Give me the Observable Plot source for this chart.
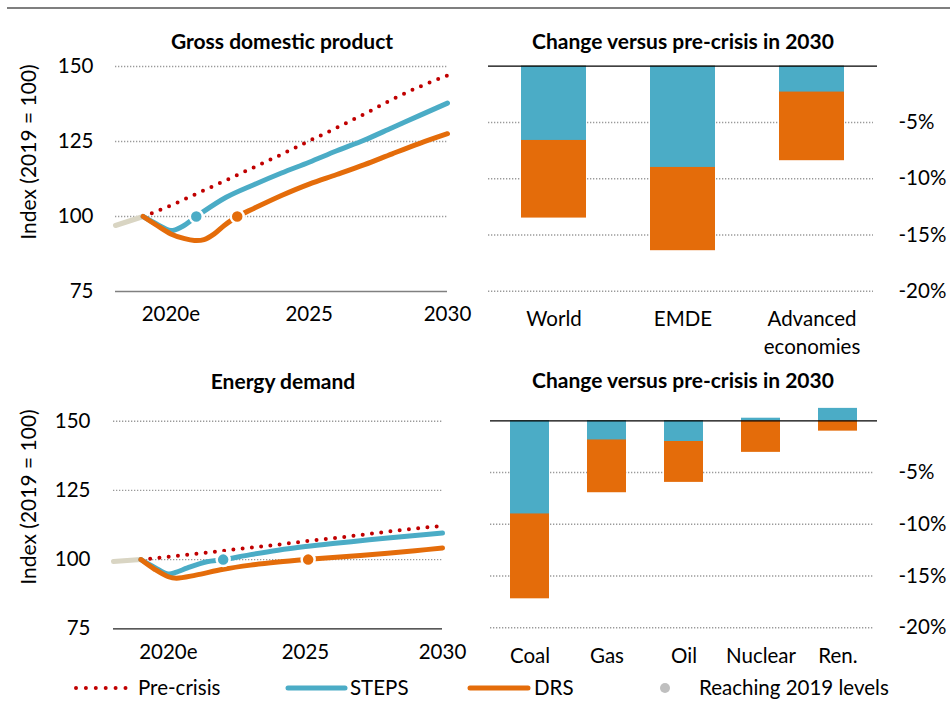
<!DOCTYPE html>
<html><head><meta charset="utf-8">
<script src="https://cdn.jsdelivr.net/npm/d3@7"></script>
<script src="https://cdn.jsdelivr.net/npm/@observablehq/plot@0.6"></script>
<style>
body{margin:0;background:#fff;font-family:Lato,"Open Sans",sans-serif;}
#root{position:relative;width:950px;height:701px;overflow:hidden;background:#fff;}
.title{position:absolute;font-weight:bold;font-size:21px;line-height:1;transform:translate(-50%,-50%);white-space:nowrap;color:#000;}
.ylab{position:absolute;font-size:21px;line-height:1;transform:translate(-50%,-50%) rotate(-90deg);white-space:nowrap;color:#000;}
.topline{position:absolute;left:7px;top:7px;width:943px;height:2px;background:#7f7f7f;}
</style></head><body><div id="root"><div class="topline"></div></div>
<script>
// ---------- DATA ----------
const xTicks = [2020, 2025, 2030];
const xTickLabels = ["2020e", "2025", "2030"];
const yTicks = [75, 100, 125, 150];
const gridValues = [100, 125, 150];
const pctTicks = [-5, -10, -15, -20];
const pctTickLabels = ["-5%", "-10%", "-15%", "-20%"];

// GDP panel
const gdpHistYear = [2018, 2019];
const gdpHistValue = [97, 100];
const gdpPreYear = [2019, 2020, 2021, 2022, 2023, 2024, 2025, 2026, 2027, 2028, 2029, 2030];
const gdpPreValue = [100, 103.7, 107.9, 112.1, 116.4, 120.7, 125.2, 129.6, 134.2, 139.0, 143.3, 147.0];
const gdpStepsYear = [2019, 2019.5, 2020, 2020.4, 2021, 2022, 2023, 2024, 2025, 2026, 2027, 2028, 2029, 2030];
const gdpStepsValue = [100, 97.4, 95.3, 96.6, 100.5, 106.4, 110.6, 114.5, 118.1, 121.9, 125.5, 129.6, 133.7, 137.8];
const gdpDrsYear = [2019, 2019.5, 2020, 2020.5, 2020.85, 2021.2, 2021.57, 2021.93, 2022.4, 2023, 2024, 2025, 2026, 2027, 2028, 2029, 2030];
const gdpDrsValue = [100, 97.0, 94.2, 92.6, 92.0, 92.3, 94.2, 97.0, 100, 102.7, 107.0, 110.8, 114.0, 117.3, 120.9, 124.4, 127.6];
const gdpReachYear = [2020.92, 2022.4];
const gdpReachScenario = ["STEPS", "DRS"];

// Energy demand panel
const enHistYear = [2018, 2019];
const enHistValue = [99.3, 100];
const enPreYear = [2019, 2020, 2021, 2022, 2023, 2024, 2025, 2026, 2027, 2028, 2029, 2030];
const enPreValue = [100, 101.0, 102.1, 103.2, 104.3, 105.4, 106.6, 107.7, 108.9, 110.1, 111.2, 112.2];
const enStepsYear = [2019, 2019.5, 2020, 2020.3, 2020.7, 2021.4, 2022, 2023, 2024, 2025, 2026, 2027, 2028, 2029, 2030];
const enStepsValue = [100, 97.2, 94.8, 95.5, 97.0, 99.2, 100, 101.8, 103.4, 104.7, 105.8, 106.8, 107.8, 108.7, 109.6];
const enDrsYear = [2019, 2019.5, 2020, 2020.3, 2021, 2022, 2023, 2024, 2025, 2026, 2027, 2028, 2029, 2030];
const enDrsValue = [100, 96.5, 93.8, 93.3, 94.4, 96.5, 98.0, 99.1, 100, 100.8, 101.5, 102.3, 103.2, 104.2];
const enReachYear = [2022.0, 2025.1];
const enReachScenario = ["STEPS", "DRS"];

// Change versus pre-crisis in 2030 (%)
const regions = ["World", "EMDE", "Advanced economies"];
const regionLabels = ["World", "EMDE", "Advanced\neconomies"];
const regionSteps = [-6.6, -9.0, -2.3];
const regionDrs = [-13.5, -16.4, -8.4];

const fuels = ["Coal", "Gas", "Oil", "Nuclear", "Ren."];
const fuelSteps = [-9.0, -1.85, -2.0, 0.25, 1.2];
const fuelDrs = [-17.2, -6.95, -5.95, -3.05, -1.0];

const scenarios = ["Pre-crisis", "STEPS", "DRS", "Reaching 2019 levels"];
const colors = {"Pre-crisis": "#c00000", "STEPS": "#4bacc6", "DRS": "#e46c0a", "History": "#d9d5c3", "Reach": "#bfbfbf"};

// ---------- HELPERS ----------
const root = document.getElementById("root");
const zip = (xs, ys) => xs.map((x, i) => ({x, y: ys[i]}));
const FONT = "Lato, 'Open Sans', sans-serif";
const FS = "20.5px";

function place(node, left, top) {
  node.style.position = "absolute";
  node.style.left = left + "px";
  node.style.top = top + "px";
  root.appendChild(node);
}
function addText(cls, text, x, y) {
  const d = document.createElement("div");
  d.className = cls;
  d.textContent = text;
  d.style.left = x + "px";
  d.style.top = y + "px";
  root.appendChild(d);
}

function linePanel(o) {
  return Plot.plot({
    width: 475, height: 350,
    marginLeft: o.ml, marginRight: o.mr, marginTop: o.mt, marginBottom: o.mb,
    x: {domain: [2018, 2030]},
    y: {domain: [75, 150]},
    style: {fontFamily: FONT, fontSize: FS, color: "#000", background: "transparent", overflow: "visible"},
    marks: [
      Plot.ruleY(gridValues, {stroke: "#9a9a9a", strokeWidth: 1.4, strokeDasharray: "1.3 1.7"}),
      Plot.ruleY([75], {stroke: o.axisColor, strokeWidth: 1.3}),
      Plot.axisY({ticks: yTicks, tickSize: 0, tickPadding: o.ytp, label: null}),
      Plot.axisX({ticks: xTicks, tickFormat: (d) => xTickLabels[xTicks.indexOf(d)], tickSize: 0, tickPadding: o.xtp, label: null}),
      Plot.line(zip(o.hist[0], o.hist[1]), {x: "x", y: "y", stroke: colors.History, strokeWidth: 5, curve: "linear"}),
      Plot.line(zip(o.pre[0], o.pre[1]), {x: "x", y: "y", stroke: colors["Pre-crisis"], strokeWidth: 4, strokeDasharray: "0 9.3", strokeLinecap: "round", curve: "monotone-x"}),
      Plot.line(zip(o.steps[0], o.steps[1]), {x: "x", y: "y", stroke: colors.STEPS, strokeWidth: 5, curve: "catmull-rom"}),
      Plot.line(zip(o.drs[0], o.drs[1]), {x: "x", y: "y", stroke: colors.DRS, strokeWidth: 5, curve: "catmull-rom"}),
      Plot.dot(o.reach[0].map((x, i) => ({x, s: o.reach[1][i]})), {x: "x", y: () => 100, r: 6.5, fill: (d) => colors[d.s], stroke: "#fff", strokeWidth: 2.5})
    ]
  });
}

function barPanel(o) {
  const rows = o.cats.map((c, i) => ({c, steps: o.steps[i], drs: o.drs[i]}));
  return Plot.plot({
    width: 475, height: 350,
    marginLeft: o.ml, marginRight: o.mr, marginTop: o.mt, marginBottom: o.mb,
    x: {domain: o.cats, paddingInner: 0.5, paddingOuter: 0.25},
    y: {domain: o.ydomain},
    style: {fontFamily: FONT, fontSize: FS, color: "#000", background: "transparent", overflow: "visible"},
    marks: [
      Plot.ruleY(pctTicks, {stroke: "#9a9a9a", strokeWidth: 1.4, strokeDasharray: "1.3 1.7", insetRight: 4}),
      Plot.barY(rows, {x: "c", y: "drs", fill: colors.DRS}),
      Plot.barY(rows, {x: "c", y: "steps", fill: colors.STEPS}),
      Plot.ruleY([0], {stroke: "#000", strokeWidth: 1.3}),
      Plot.axisY({anchor: "right", ticks: pctTicks, tickFormat: (d) => pctTickLabels[pctTicks.indexOf(d)], tickSize: 0, tickPadding: 21, label: null}),
      Plot.axisX({tickFormat: (d) => o.labels[o.cats.indexOf(d)], tickSize: 0, tickPadding: o.xtp, label: null, lineHeight: 1.37})
    ]
  });
}

// ---------- PANELS ----------
place(linePanel({ml: 115, mr: 28, mt: 66, mb: 59, ytp: 22, xtp: 14.5, axisColor: "#808080",
  hist: [gdpHistYear, gdpHistValue], pre: [gdpPreYear, gdpPreValue],
  steps: [gdpStepsYear, gdpStepsValue], drs: [gdpDrsYear, gdpDrsValue], reach: [gdpReachYear, gdpReachScenario]}), 0, 0);

place(linePanel({ml: 113, mr: 33, mt: 70.7, mb: 71.7, ytp: 23, xtp: 16, axisColor: "#222",
  hist: [enHistYear, enHistValue], pre: [enPreYear, enPreValue],
  steps: [enStepsYear, enStepsValue], drs: [enDrsYear, enDrsValue], reach: [enReachYear, enReachScenario]}), 0, 350);

place(barPanel({cats: regions, labels: regionLabels, steps: regionSteps, drs: regionDrs,
  ydomain: [-20, 0], ml: 13, mr: 73, mt: 65.7, mb: 59.3, xtp: 14.5}), 475, 0);

place(barPanel({cats: fuels, labels: fuels, steps: fuelSteps, drs: fuelDrs,
  ydomain: [-20, 2], ml: 15, mr: 73, mt: 49.6, mb: 72.7, xtp: 15.4}), 475, 350);

// ---------- TITLES ----------
addText("title", "Gross domestic product", 282, 40);
addText("title", "Change versus pre-crisis in 2030", 683, 40);
addText("title", "Energy demand", 283, 380);
addText("title", "Change versus pre-crisis in 2030", 683, 379);
addText("ylab", "Index (2019 = 100)", 27, 152);
addText("ylab", "Index (2019 = 100)", 27, 497);

// ---------- LEGEND ----------
const ns = "http://www.w3.org/2000/svg";
const leg = document.createElementNS(ns, "svg");
leg.setAttribute("width", 950); leg.setAttribute("height", 40);
leg.style.fontFamily = FONT; leg.style.fontSize = FS;
function el(tag, attrs, text) {
  const e = document.createElementNS(ns, tag);
  for (const k in attrs) e.setAttribute(k, attrs[k]);
  if (text) e.textContent = text;
  leg.appendChild(e);
  return e;
}
const ly = 20;
const legendItems = [
  {name: scenarios[0], x1: 76, x2: 128, tx: 138, kind: "dots"},
  {name: scenarios[1], x1: 288, x2: 345, tx: 350, kind: "line"},
  {name: scenarios[2], x1: 470, x2: 528, tx: 534, kind: "line"},
  {name: scenarios[3], x1: 665, x2: 665, tx: 699, kind: "dot"}
];
for (const it of legendItems) {
  if (it.kind === "dots") el("line", {x1: it.x1, x2: it.x2, y1: ly, y2: ly, stroke: colors["Pre-crisis"], "stroke-width": 4, "stroke-dasharray": "0 9.9", "stroke-linecap": "round"});
  else if (it.kind === "line") el("line", {x1: it.x1, x2: it.x2, y1: ly, y2: ly, stroke: colors[it.name], "stroke-width": 5, "stroke-linecap": "round"});
  else el("circle", {cx: it.x1, cy: ly, r: 5, fill: colors.Reach});
  el("text", {x: it.tx, y: ly, dy: "0.35em", fill: "#000"}, it.name);
}
place(leg, 0, 668);
</script></body></html>
